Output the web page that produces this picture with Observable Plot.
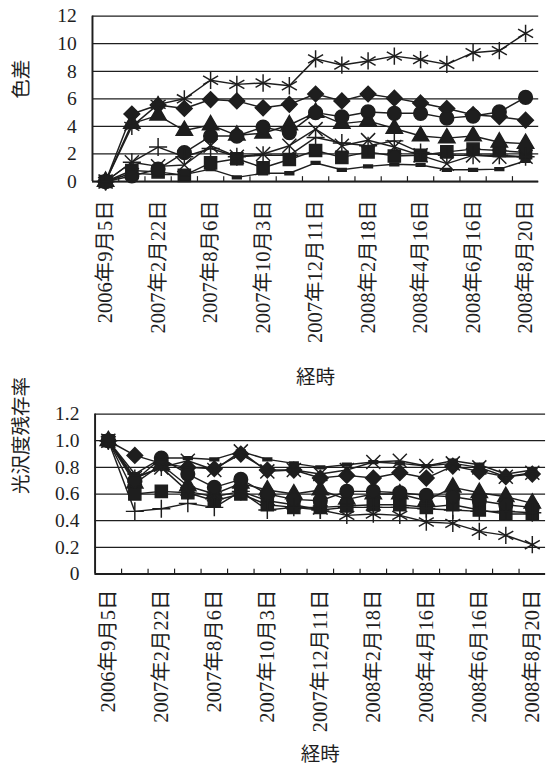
<!DOCTYPE html>
<html><head><meta charset="utf-8">
<script src="https://cdn.jsdelivr.net/npm/d3@7"></script>
<script src="https://cdn.jsdelivr.net/npm/@observablehq/plot@0.6"></script>
<style>
html,body{margin:0;padding:0;background:#fff;overflow:hidden;}
#wrap{position:relative;width:548px;height:774px;overflow:hidden;}
#top{position:absolute;left:0;top:0;}
#bottom{position:absolute;left:0;top:398px;}
</style></head><body><div id="wrap"><div id="top"></div><div id="bottom"></div></div>
<script>
// x categories (17 measurement dates; only every other one is labelled)
const xLabels = ["2006年9月5日","","2007年2月22日","","2007年8月6日","","2007年10月3日","",
  "2007年12月11日","","2008年2月18日","","2008年4月16日","","2008年6月16日","","2008年8月20日"];
const xTitle = "経時";

// chart 1: 色差
const cdTitle = "色差";
const cdTicks = [0,2,4,6,8,10,12];
const cdDiamond  = [0,4.9,5.55,5.3,5.95,5.85,5.35,5.6,6.35,5.85,6.35,6.05,5.7,5.3,4.85,4.7,4.45];
const cdSquare   = [0,0.8,0.7,0.45,1.35,1.65,1.0,1.6,2.25,1.75,2.15,1.85,1.9,2.15,2.35,2.25,2.1];
const cdTriangle = [0,4.2,4.8,3.7,4.1,3.35,3.5,4.1,5.0,4.2,4.4,3.85,3.3,3.15,3.3,2.85,2.75];
const cdTimes    = [0,1.4,1.1,1.2,2.6,1.8,2.0,2.6,3.8,2.6,3.0,2.5,1.9,1.3,1.9,1.8,1.8];
const cdAsterisk = [0,4.0,5.6,6.0,7.35,7.05,7.15,6.95,8.9,8.45,8.75,9.1,8.85,8.5,9.35,9.5,10.75];
const cdCircle   = [0,0.4,0.9,2.1,3.3,3.3,3.95,3.55,5.0,4.7,5.05,4.95,4.95,4.6,4.75,5.05,6.1];
const cdPlus     = [0,1.4,2.5,1.8,2.4,1.8,1.9,1.9,3.2,2.8,2.6,2.95,2.1,1.9,1.9,1.9,1.8];
const cdDash     = [0,0.6,0.5,0.5,0.9,0.3,0.6,0.6,1.35,0.85,1.1,1.25,1.2,0.85,0.85,0.9,1.5];

// chart 2: 光沢度残存率
const glTitle = "光沢度残存率";
const glTicks = [0,0.2,0.4,0.6,0.8,1.0,1.2];
const glDiamond  = [1,0.89,0.83,0.8,0.79,0.9,0.78,0.78,0.72,0.74,0.72,0.76,0.72,0.81,0.77,0.73,0.75];
const glSquare   = [1,0.6,0.62,0.61,0.55,0.6,0.52,0.5,0.5,0.51,0.52,0.52,0.5,0.52,0.48,0.45,0.45];
const glTriangle = [1,0.68,0.82,0.66,0.6,0.68,0.63,0.6,0.63,0.56,0.6,0.6,0.55,0.65,0.61,0.58,0.53];
const glTimes    = [1,0.72,0.8,0.85,0.78,0.92,0.77,0.78,0.75,0.78,0.84,0.85,0.81,0.83,0.8,0.73,0.76];
const glAsterisk = [1,0.72,0.8,0.62,0.58,0.62,0.55,0.52,0.48,0.44,0.45,0.44,0.39,0.38,0.32,0.29,0.22];
const glCircle   = [1,0.7,0.87,0.75,0.65,0.71,0.6,0.56,0.55,0.62,0.62,0.61,0.59,0.58,0.55,0.52,0.5];
const glPlus     = [1,0.47,0.49,0.53,0.5,0.62,0.48,0.5,0.48,0.5,0.5,0.5,0.49,0.48,0.47,0.47,0.46];
const glDash     = [1,0.75,0.87,0.87,0.86,0.92,0.86,0.83,0.8,0.82,0.84,0.83,0.81,0.85,0.82,0.75,0.78];

const INK = "#1e1e1e";
const FONT = "Liberation Serif, Noto Sans CJK JP, serif";
const dashSymbol = {draw(ctx, size){ const w = Math.sqrt(size)*0.55, h = w*0.32; ctx.rect(-w,-h,2*w,2*h); }};
const markerStyles = {
  diamond:  {symbol:"diamond2", r:7.2, fill:INK, stroke:INK},
  square:   {symbol:"square",   r:7.0, fill:INK, stroke:INK},
  triangle: {symbol:"triangle", r:6.2, fill:INK, stroke:INK},
  times:    {symbol:"times",    r:6.6, fill:"none", stroke:INK, strokeWidth:1.5},
  asterisk: {symbol:"asterisk", r:8.4, fill:"none", stroke:INK, strokeWidth:1.5},
  circle:   {symbol:"circle",   r:7.0, fill:INK, stroke:INK},
  plus:     {symbol:"plus",     r:6.0, fill:"none", stroke:INK, strokeWidth:1.5},
  dash:     {symbol:dashSymbol, r:4.6, fill:INK, stroke:INK}
};

function rows(seriesMap){
  return Object.entries(seriesMap).flatMap(([s, vals]) => vals.map((v,i)=>({s, i, v})));
}

function chart({series, ticks, domain, title, width, height, mLeft, mRight, mTop, mBottom, tickLen, labelPad, titleDy}){
  const data = rows(series);
  const idx = xLabels.map((_,i)=>i);
  const bounds = idx.slice(0,-1).map(i=>i+0.5);
  const labelled = idx.filter(i => xLabels[i] !== "");
  const marks = [
    Plot.gridY(ticks, {stroke:INK, strokeOpacity:1, strokeWidth:1.3}),
    Plot.ruleY([domain[0]], {stroke:INK, strokeWidth:2}),
    Plot.ruleX([-0.5], {stroke:INK, strokeWidth:2}),
    Plot.ruleX(bounds, {y1:domain[0], y2:domain[0], insetTop:-tickLen, stroke:INK, strokeWidth:1.2}),
    Plot.axisY(ticks, {tickSize:0, tickPadding:16, fontSize:20, fontFamily:FONT, label:null, tickFormat: d => d === 0 ? "0" : (domain[1] > 2 ? String(d) : d.toFixed(1))}),
    Plot.axisX(labelled, {tickSize:0, tickPadding:labelPad, tickRotate:-90, fontSize:21, fontFamily:FONT, label:null, tickFormat: i => xLabels[i]}),
    Plot.line(data, {x:"i", y:"v", z:"s", stroke:INK, strokeWidth:1.5}),
  ];
  for (const name of Object.keys(series)) {
    marks.push(Plot.dot(data.filter(d=>d.s===name), {x:"i", y:"v", ...markerStyles[name]}));
  }
  marks.push(Plot.text([title], {frameAnchor:"left", dx:-mLeft+22, rotate:-90, fontSize:20, fontFamily:FONT}));
  marks.push(Plot.text([xTitle], {frameAnchor:"bottom", lineAnchor:"middle", dy:titleDy, fontSize:20, fontFamily:FONT}));
  return Plot.plot({
    width, height, marginLeft:mLeft, marginRight:mRight, marginTop:mTop, marginBottom:mBottom,
    style:{fontFamily:FONT, fontSize:"20px", color:INK, background:"transparent", overflow:"visible"},
    x:{type:"linear", domain:[-0.5, xLabels.length-0.5]},
    y:{domain},
    marks
  });
}

document.getElementById("top").append(chart({
  series:{diamond:cdDiamond, square:cdSquare, triangle:cdTriangle, times:cdTimes, asterisk:cdAsterisk, circle:cdCircle, plus:cdPlus, dash:cdDash},
  ticks:cdTicks, domain:[0,12], title:cdTitle,
  width:560, height:398, mLeft:94, mRight:10, mTop:16, mBottom:213, tickLen:5, labelPad:19, titleDy:201
}));
document.getElementById("bottom").append(chart({
  series:{diamond:glDiamond, square:glSquare, triangle:glTriangle, times:glTimes, asterisk:glAsterisk, circle:glCircle, plus:glPlus, dash:glDash},
  ticks:glTicks, domain:[0,1.2], title:glTitle,
  width:562, height:376, mLeft:97, mRight:3, mTop:16, mBottom:196, tickLen:5, labelPad:16, titleDy:185
}));
</script></body></html>
